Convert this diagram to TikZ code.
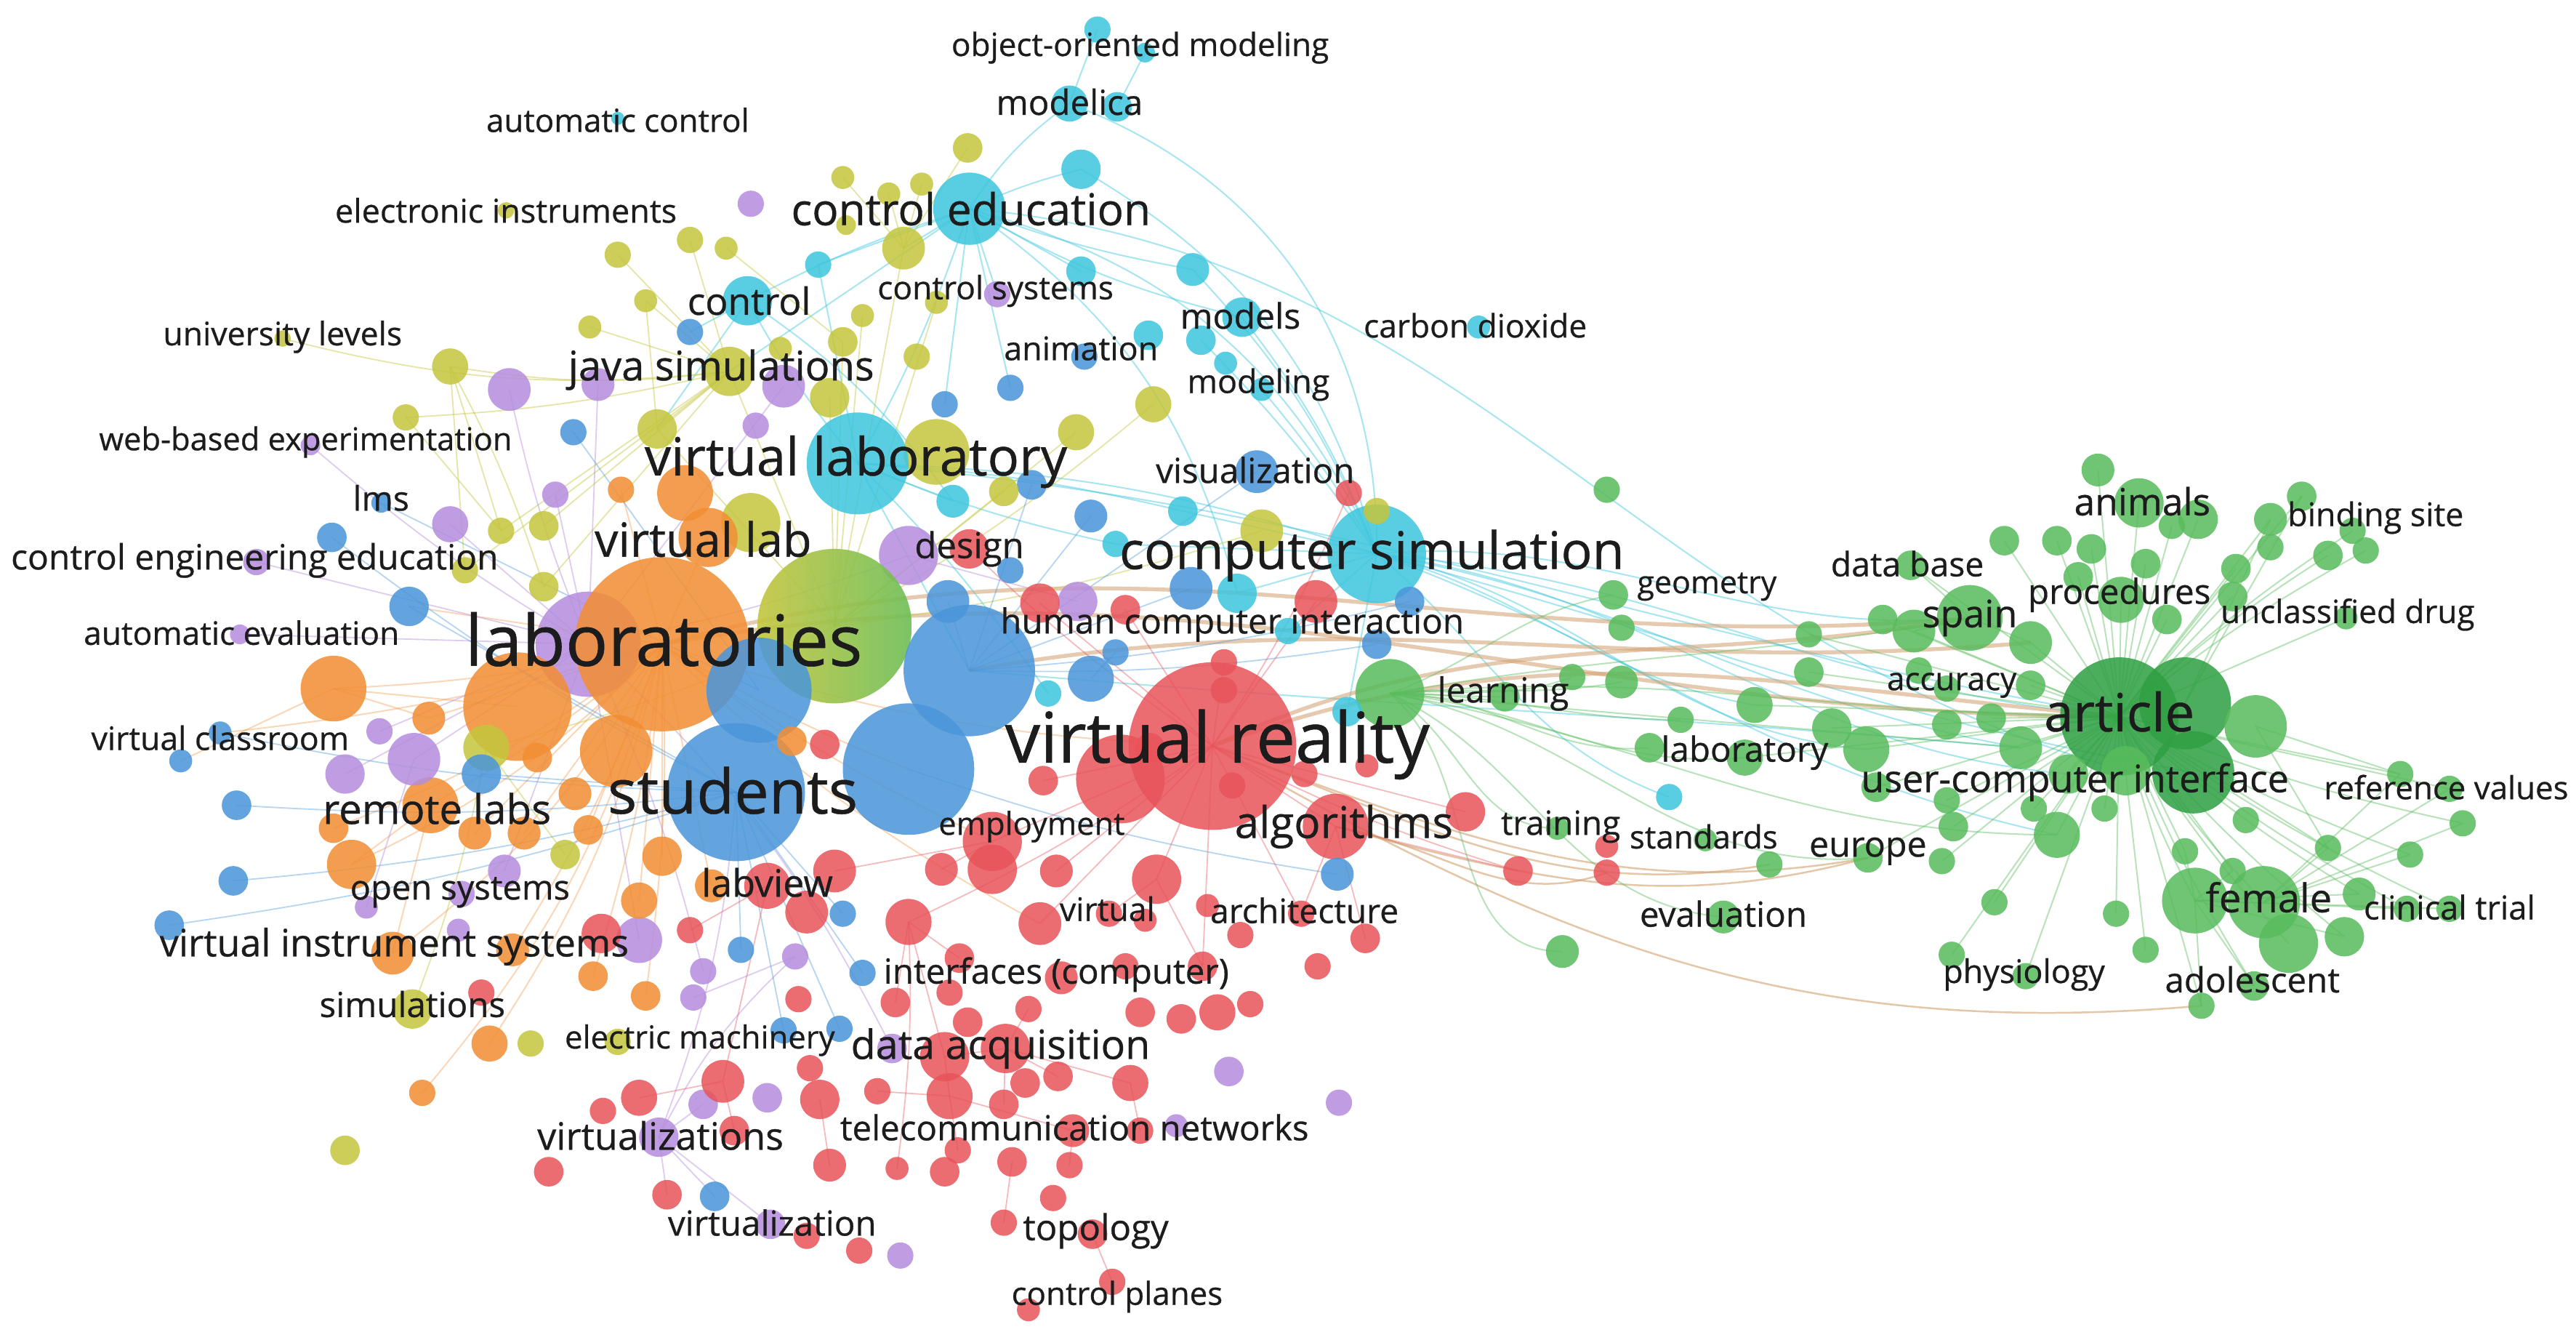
\documentclass[tikz,border=0pt]{standalone}
\usepackage{fontspec}
\setmainfont{Open Sans}
\newfontfamily\labfont{Open Sans}[FakeBold=0.6]
\pgfdeclarelayer{bg}
\pgfsetlayers{bg,main}
\definecolor{cR}{RGB}{232,84,90}
\definecolor{cG}{RGB}{88,188,92}
\definecolor{cGd}{RGB}{48,160,68}
\definecolor{cB}{RGB}{74,150,218}
\definecolor{cY}{RGB}{196,198,62}
\definecolor{cP}{RGB}{182,142,222}
\definecolor{cC}{RGB}{62,198,222}
\definecolor{cO}{RGB}{242,142,52}
\definecolor{cT}{RGB}{210,160,110}
\definecolor{cTx}{RGB}{28,28,28}
\tikzset{
  nd/.style={circle,inner sep=0pt,draw=none,fill opacity=0.86},
  nR/.style={nd,fill=cR,minimum size=2*#1pt},
  nG/.style={nd,fill=cG,minimum size=2*#1pt},
  nGd/.style={nd,fill=cGd,minimum size=2*#1pt},
  nB/.style={nd,fill=cB,minimum size=2*#1pt},
  nY/.style={nd,fill=cY,minimum size=2*#1pt},
  nP/.style={nd,fill=cP,minimum size=2*#1pt},
  nC/.style={nd,fill=cC,minimum size=2*#1pt},
  nO/.style={nd,fill=cO,minimum size=2*#1pt},
  nL/.style={circle,inner sep=0pt,draw=none,fill opacity=0.9,left color=cY,right color=cG!80!cY,minimum size=2*#1pt},
  lb/.style={inner sep=0pt,text=cTx,font=\labfont\fontsize{#1}{#1}\selectfont},
  eC/.style={draw=cC,opacity=0.45,line width=0.9pt},
  eO/.style={draw=cO,opacity=0.35,line width=0.9pt},
  eY/.style={draw=cY,opacity=0.45,line width=0.8pt},
  eP/.style={draw=cP,opacity=0.45,line width=0.8pt},
  eB/.style={draw=cB,opacity=0.4,line width=0.8pt},
  eR/.style={draw=cR,opacity=0.4,line width=0.8pt},
  eG/.style={draw=cG,opacity=0.42,line width=0.9pt},
  eT/.style={draw=cT,opacity=0.55,line width=2.4pt},
  eTt/.style={draw=cT,opacity=0.6,line width=1.1pt},
}
\begin{document}
\begin{tikzpicture}[x=1pt,y=-1pt]
\useasboundingbox (0,0) rectangle (1568,815);
% ---------------- big nodes ----------------
\node[nP=32] (p1) at (358,392) {};
\node[nO=33] (o1) at (315,430) {};
\node[nO=22] (o26) at (375,457) {};
\node[nY=18] (y50) at (457,318) {};
\node[nO=18] (o3) at (431,327) {};
\node[nO=17] (o4) at (417,300) {};
\node[nY=20] (y51) at (570,275) {};
\node[nC=31] (c0) at (522,282) {};
\node[nP=18] (p13) at (553,338) {};
\node[nL=47] (l1) at (508,381) {};
\node[nO=53] (o0) at (403,392) {};
\node[nB=32] (b1) at (462,420) {};
\node[nB=40] (b2) at (590,408) {};
\node[nB=40] (b3) at (553,468) {};
\node[nB=42] (b0) at (448,482) {};
\node[nR=27] (r1) at (682,474) {};
\node[nR=51] (r0) at (738,454) {};
\node[nC=30] (c1) at (838,337) {};
\node[nG=21] (g0) at (846,422) {};
\node[nR=20] (r2) at (813,503) {};
\node[nC=22] (c8) at (590,127) {};
\node[nGd=36] (a0) at (1290,436) {};
\node[nGd=28] (a1) at (1330,428) {};
\node[nGd=25] (a2) at (1335,470) {};
\node[nG=19] (g1) at (1373,442) {};
\node[nG=20] (g2) at (1336,548) {};
\node[nG=22] (g3) at (1378,549) {};
\node[nG=18] (g4) at (1393,574) {};
\node[nG=20] (g5) at (1199,376) {};
\node[nO=20] (o5) at (203,419) {};
\node[nY=14] (y31) at (296,455) {};
\node[nO=17] (o9) at (262,490) {};
\node[nB=13] (b35) at (577,366) {};
% ---------------- cyan ----------------
\node[nC=8] (c2) at (668,18) {};
\node[nC=6] (c3) at (697,32) {};
\node[nC=11] (c4) at (651,63) {};
\node[nC=9] (c5) at (680,65) {};
\node[nC=12] (c6) at (658,103) {};
\node[nC=4] (c7) at (376,72) {};
\node[nC=8] (c9) at (498,161) {};
\node[nC=9] (c10) at (658,165) {};
\node[nC=10] (c11) at (726,164) {};
\node[nC=15] (c12) at (455,183) {};
\node[nC=12] (c13) at (756,193) {};
\node[nC=9] (c14) at (731,207) {};
\node[nC=9] (c15) at (699,204) {};
\node[nC=7] (c16) at (746,221) {};
\node[nC=7] (c17) at (768,237) {};
\node[nC=7] (c18) at (900,199) {};
\node[nC=10] (c19) at (580,305) {};
\node[nC=9] (c20) at (720,311) {};
\node[nC=8] (c21) at (679,331) {};
\node[nC=12] (c22) at (753,361) {};
\node[nC=9] (c23) at (820,433) {};
\node[nC=8] (c24) at (1016,485) {};
\node[nC=8] (c25) at (784,384) {};
\node[nC=8] (c26) at (638,422) {};
% ---------------- blue ----------------
\node[nB=8] (b5) at (420,202) {};
\node[nB=8] (b6) at (575,246) {};
\node[nB=8] (b7) at (615,236) {};
\node[nB=8] (b8) at (349,263) {};
\node[nB=6] (b9) at (232,306) {};
\node[nB=9] (b10) at (202,327) {};
\node[nB=12] (b11) at (249,369) {};
\node[nB=7] (b12) at (134,446) {};
\node[nB=7] (b13) at (110,463) {};
\node[nB=9] (b14) at (144,490) {};
\node[nB=9] (b15) at (142,536) {};
\node[nB=9] (b16) at (103,563) {};
\node[nB=13] (b17) at (765,287) {};
\node[nB=13] (b18) at (725,358) {};
\node[nB=14] (b19) at (664,413) {};
\node[nB=9] (b20) at (628,295) {};
\node[nB=10] (b21) at (664,314) {};
\node[nB=8] (b22) at (615,347) {};
\node[nB=8] (b23) at (679,397) {};
\node[nB=9] (b24) at (838,392) {};
\node[nB=9] (b25) at (858,366) {};
\node[nB=10] (b26) at (814,532) {};
\node[nB=12] (b27) at (293,471) {};
\node[nB=8] (b28) at (513,556) {};
\node[nB=8] (b29) at (451,578) {};
\node[nB=8] (b30) at (525,592) {};
\node[nB=8] (b31) at (477,627) {};
\node[nB=8] (b32) at (511,626) {};
\node[nB=9] (b33) at (435,728) {};
\node[nB=8] (b34) at (660,217) {};
% ---------------- yellow ----------------
\node[nY=9] (y1) at (589,90) {};
\node[nY=7] (y2) at (513,108) {};
\node[nY=7] (y3) at (541,118) {};
\node[nY=7] (y4) at (561,112) {};
\node[nY=6] (y5) at (515,137) {};
\node[nY=5] (y6) at (308,128) {};
\node[nY=8] (y7) at (376,155) {};
\node[nY=8] (y8) at (420,146) {};
\node[nY=7] (y9) at (442,151) {};
\node[nY=13] (y10) at (550,151) {};
\node[nY=7] (y11) at (393,183) {};
\node[nY=7] (y12) at (359,199) {};
\node[nY=7] (y13) at (525,192) {};
\node[nY=7] (y14) at (570,184) {};
\node[nY=8] (y15) at (558,217) {};
\node[nY=9] (y16) at (513,208) {};
\node[nY=5] (y17) at (172,206) {};
\node[nY=11] (y18) at (274,223) {};
\node[nY=8] (y19) at (247,254) {};
\node[nY=15] (y20) at (444,226) {};
\node[nY=12] (y21) at (400,261) {};
\node[nY=11] (y22) at (702,246) {};
\node[nY=11] (y23) at (655,263) {};
\node[nY=9] (y24) at (611,299) {};
\node[nY=13] (y25) at (768,323) {};
\node[nY=8] (y26) at (838,311) {};
\node[nY=8] (y27) at (305,323) {};
\node[nY=9] (y28) at (331,320) {};
\node[nY=8] (y29) at (283,347) {};
\node[nY=9] (y30) at (331,357) {};
\node[nY=9] (y32) at (344,520) {};
\node[nY=12] (y33) at (251,614) {};
\node[nY=8] (y34) at (323,635) {};
\node[nY=8] (y35) at (376,634) {};
\node[nY=9] (y36) at (210,700) {};
\node[nY=12] (y37) at (505,242) {};
\node[nY=7] (y38) at (475,212) {};
% ---------------- purple ----------------
\node[nP=8] (p2) at (457,124) {};
\node[nP=8] (p3) at (607,179) {};
\node[nP=13] (p4) at (310,237) {};
\node[nP=10] (p5) at (364,234) {};
\node[nP=13] (p6) at (477,235) {};
\node[nP=8] (p7) at (460,259) {};
\node[nP=6] (p8) at (189,271) {};
\node[nP=8] (p9) at (338,301) {};
\node[nP=11] (p10) at (274,319) {};
\node[nP=8] (p11) at (156,342) {};
\node[nP=6] (p12) at (146,386) {};
\node[nP=12] (p14) at (656,366) {};
\node[nP=8] (p15) at (231,445) {};
\node[nP=16] (p16) at (252,462) {};
\node[nP=12] (p17) at (210,471) {};
\node[nP=10] (p18) at (307,530) {};
\node[nP=8] (p19) at (281,544) {};
\node[nP=7] (p20) at (223,552) {};
\node[nP=14] (p21) at (389,572) {};
\node[nP=7] (p22) at (279,566) {};
\node[nP=8] (p23) at (428,591) {};
\node[nP=8] (p24) at (422,607) {};
\node[nP=8] (p25) at (484,582) {};
\node[nP=9] (p26) at (543,638) {};
\node[nP=9] (p27) at (748,652) {};
\node[nP=8] (p28) at (815,671) {};
\node[nP=7] (p29) at (716,685) {};
\node[nP=9] (p30) at (428,672) {};
\node[nP=9] (p31) at (467,668) {};
\node[nP=12] (p32) at (401,692) {};
\node[nP=9] (p33) at (469,745) {};
\node[nP=8] (p34) at (548,764) {};
% ---------------- orange ----------------
\node[nO=10] (o6) at (261,437) {};
\node[nO=9] (o7) at (327,461) {};
\node[nO=10] (o8) at (350,483) {};
\node[nO=9] (o10) at (203,504) {};
\node[nO=10] (o11) at (289,507) {};
\node[nO=10] (o12) at (319,507) {};
\node[nO=9] (o13) at (358,505) {};
\node[nO=15] (o14) at (214,526) {};
\node[nO=12] (o15) at (403,521) {};
\node[nO=11] (o16) at (389,548) {};
\node[nO=10] (o17) at (433,539) {};
\node[nO=13] (o18) at (239,580) {};
\node[nO=10] (o19) at (312,578) {};
\node[nO=9] (o20) at (361,594) {};
\node[nO=9] (o21) at (393,606) {};
\node[nO=11] (o22) at (298,635) {};
\node[nO=8] (o23) at (257,665) {};
\node[nO=8] (o24) at (378,298) {};
\node[nO=9] (o25) at (482,451) {};
% ---------------- red ----------------
\node[nR=8] (r3) at (821,300) {};
\node[nR=12] (r4) at (590,334) {};
\node[nR=12] (r5) at (633,367) {};
\node[nR=9] (r6) at (685,371) {};
\node[nR=13] (r7) at (801,366) {};
\node[nR=8] (r8) at (745,403) {};
\node[nR=9] (r9) at (635,475) {};
\node[nR=8] (r10) at (750,478) {};
\node[nR=8] (r11) at (794,471) {};
\node[nR=7] (r12) at (832,466) {};
\node[nR=12] (r13) at (892,494) {};
\node[nR=18] (r14) at (604,512) {};
\node[nR=15] (r15) at (604,529) {};
\node[nR=10] (r16) at (573,529) {};
\node[nR=10] (r17) at (643,530) {};
\node[nR=15] (r18) at (704,535) {};
\node[nR=9] (r19) at (924,530) {};
\node[nR=8] (r20) at (978,531) {};
\node[nR=7] (r21) at (978,515) {};
\node[nR=14] (r22) at (553,561) {};
\node[nR=13] (r23) at (633,562) {};
\node[nR=8] (r24) at (675,556) {};
\node[nR=7] (r25) at (697,560) {};
\node[nR=7] (r26) at (735,551) {};
\node[nR=8] (r27) at (755,569) {};
\node[nR=8] (r28) at (792,556) {};
\node[nR=9] (r29) at (831,571) {};
\node[nR=8] (r30) at (802,588) {};
\node[nR=9] (r31) at (584,583) {};
\node[nR=9] (r32) at (545,610) {};
\node[nR=8] (r33) at (578,604) {};
\node[nR=8] (r34) at (626,614) {};
\node[nR=10] (r35) at (646,595) {};
\node[nR=8] (r36) at (685,588) {};
\node[nR=9] (r37) at (732,588) {};
\node[nR=9] (r38) at (694,616) {};
\node[nR=9] (r39) at (719,620) {};
\node[nR=11] (r40) at (741,616) {};
\node[nR=8] (r41) at (761,611) {};
\node[nR=9] (r42) at (589,622) {};
\node[nR=15] (r43) at (575,643) {};
\node[nR=15] (r44) at (612,638) {};
\node[nR=14] (r45) at (578,667) {};
\node[nR=9] (r46) at (644,655) {};
\node[nR=11] (r47) at (688,659) {};
\node[nR=9] (r48) at (624,659) {};
\node[nR=9] (r49) at (611,672) {};
\node[nR=8] (r50) at (534,664) {};
\node[nR=10] (r51) at (653,688) {};
\node[nR=8] (r52) at (583,700) {};
\node[nR=7] (r53) at (546,711) {};
\node[nR=9] (r54) at (575,713) {};
\node[nR=9] (r55) at (616,707) {};
\node[nR=8] (r56) at (651,709) {};
\node[nR=8] (r57) at (694,688) {};
\node[nR=8] (r58) at (641,729) {};
\node[nR=8] (r59) at (611,744) {};
\node[nR=9] (r60) at (665,751) {};
\node[nR=8] (r61) at (677,780) {};
\node[nR=7] (r62) at (626,797) {};
\node[nR=14] (r63) at (467,539) {};
\node[nR=13] (r64) at (491,555) {};
\node[nR=13] (r65) at (508,530) {};
\node[nR=9] (r66) at (502,453) {};
\node[nR=8] (r67) at (420,566) {};
\node[nR=12] (r68) at (366,568) {};
\node[nR=8] (r69) at (293,604) {};
\node[nR=8] (r71) at (486,608) {};
\node[nR=13] (r72) at (440,658) {};
\node[nR=11] (r73) at (389,668) {};
\node[nR=8] (r74) at (367,676) {};
\node[nR=12] (r75) at (499,669) {};
\node[nR=8] (r76) at (493,650) {};
\node[nR=9] (r77) at (447,688) {};
\node[nR=10] (r78) at (505,709) {};
\node[nR=9] (r79) at (334,713) {};
\node[nR=9] (r80) at (406,727) {};
\node[nR=8] (r81) at (491,752) {};
\node[nR=8] (r82) at (523,761) {};
\node[nR=9] (r84) at (700,455) {};
\node[nR=8] (r85) at (745,420) {};
% ---------------- green ----------------
\node[nG=8] (g6) at (978,298) {};
\node[nG=9] (g7) at (982,362) {};
\node[nG=8] (g8) at (987,382) {};
\node[nG=8] (g9) at (957,412) {};
\node[nG=10] (g10) at (987,415) {};
\node[nG=9] (g11) at (916,424) {};
\node[nG=11] (g12) at (1068,429) {};
\node[nG=8] (g13) at (1023,438) {};
\node[nG=9] (g14) at (1004,455) {};
\node[nG=11] (g15) at (1062,461) {};
\node[nG=7] (g16) at (948,504) {};
\node[nG=7] (g17) at (1038,511) {};
\node[nG=8] (g18) at (1077,526) {};
\node[nG=10] (g19) at (1049,558) {};
\node[nG=10] (g20) at (951,579) {};
\node[nG=8] (g21) at (1101,386) {};
\node[nG=9] (g22) at (1101,409) {};
\node[nG=12] (g23) at (1115,443) {};
\node[nG=14] (g24) at (1136,456) {};
\node[nG=9] (g25) at (1142,479) {};
\node[nG=9] (g26) at (1163,344) {};
\node[nG=13] (g27) at (1165,384) {};
\node[nG=9] (g28) at (1146,377) {};
\node[nG=13] (g29) at (1236,391) {};
\node[nG=9] (g30) at (1220,329) {};
\node[nG=9] (g31) at (1252,329) {};
\node[nG=9] (g32) at (1273,334) {};
\node[nG=9] (g33) at (1265,351) {};
\node[nG=8] (g34) at (1168,408) {};
\node[nG=8] (g35) at (1185,419) {};
\node[nG=9] (g36) at (1236,417) {};
\node[nG=9] (g37) at (1212,437) {};
\node[nG=9] (g38) at (1185,441) {};
\node[nG=13] (g39) at (1230,455) {};
\node[nG=12] (g40) at (1259,471) {};
\node[nG=15] (g41) at (1294,469) {};
\node[nG=8] (g42) at (1185,487) {};
\node[nG=9] (g43) at (1189,503) {};
\node[nG=8] (g44) at (1238,492) {};
\node[nG=14] (g45) at (1252,508) {};
\node[nG=8] (g46) at (1281,492) {};
\node[nG=9] (g47) at (1137,522) {};
\node[nG=8] (g48) at (1182,524) {};
\node[nG=8] (g50) at (1214,549) {};
\node[nG=8] (g51) at (1188,581) {};
\node[nG=8] (g52) at (1233,594) {};
\node[nG=10] (g53) at (1277,286) {};
\node[nG=15] (g54) at (1302,306) {};
\node[nG=8] (g55) at (1322,320) {};
\node[nG=12] (g56) at (1338,316) {};
\node[nG=10] (g57) at (1382,316) {};
\node[nG=9] (g58) at (1401,302) {};
\node[nG=8] (g59) at (1432,323) {};
\node[nG=9] (g60) at (1417,338) {};
\node[nG=8] (g61) at (1440,335) {};
\node[nG=8] (g62) at (1382,333) {};
\node[nG=9] (g63) at (1361,346) {};
\node[nG=9] (g64) at (1359,363) {};
\node[nG=7] (g65) at (1428,376) {};
\node[nG=9] (g66) at (1306,343) {};
\node[nG=14] (g67) at (1291,365) {};
\node[nG=9] (g68) at (1319,377) {};
\node[nG=8] (g69) at (1367,499) {};
\node[nG=8] (g70) at (1461,471) {};
\node[nG=8] (g71) at (1491,480) {};
\node[nG=8] (g72) at (1499,501) {};
\node[nG=8] (g73) at (1467,520) {};
\node[nG=8] (g74) at (1417,516) {};
\node[nG=8] (g75) at (1330,518) {};
\node[nG=8] (g76) at (1359,530) {};
\node[nG=12] (g77) at (1427,570) {};
\node[nG=10] (g78) at (1436,544) {};
\node[nG=8] (g79) at (1465,553) {};
\node[nG=8] (g80) at (1491,553) {};
\node[nG=8] (g81) at (1288,556) {};
\node[nG=8] (g82) at (1306,578) {};
\node[nG=9] (g83) at (1372,600) {};
\node[nG=8] (g84) at (1340,612) {};
% ---------------- edges ----------------
\begin{pgfonlayer}{bg}
\fill[white] (0,0) rectangle (1568,815);
\foreach \a/\b/\k in {c8/c0/5,c8/c12/-5,c8/c4/10,c8/c6/5,c8/c9/0,c8/c10/0,c8/c11/-5,c8/c13/-8,c8/p3/0,c8/y10/0,c8/b6/0,c8/c1/25,c4/c1/35,c6/c1/22,c2/c4/0,c3/c5/0,c0/c12/5,c0/c19/0,c0/c9/0,c0/c1/8,c0/c20/5,c1/c11/-10,c1/c13/-8,c1/c14/-5,c1/c17/-5,c1/c20/0,c1/c21/0,c1/c22/0,c1/c25/0,c1/c23/0,c12/b5/0,c0/b2/0,c8/b7/0,c0/c26/5,c8/c22/20,c0/c21/-5,c12/c19/10,c8/y20/0,c12/y21/0}
  \draw[eC] (\a.center) to[bend left=\k] (\b.center);
\foreach \a/\b/\o/\i in {c1/a0/-5/175,c1/g5/5/185,c1/g39/-10/170,c1/a2/-15/170,c1/g24/-12/175,c1/g12/-15/170,c1/g45/-20/168,c0/a0/-5/170,c1/g40/-8/175,b2/g39/-5/175,c8/g41/-5/165,c1/c24/-40/160}
  \draw[eC] (\a.center) to[out=\o,in=\i] (\b.center);
\foreach \a/\b/\o/\i in {o0/g5/15/185,o0/a0/10/180,r0/g5/25/190,r0/a0/20/175,b2/g29/10/185}
  \draw[eT] (\a.center) to[out=\o,in=\i] (\b.center);
\foreach \a/\b/\o/\i in {r0/g47/-20/190,r2/g47/-15/195,r0/g84/-30/185,r0/g18/-20/190,r2/r20/-10/200}
  \draw[eTt] (\a.center) to[out=\o,in=\i] (\b.center);
\foreach \a/\b/\k in {o0/o5/5,o0/o6/0,o0/o9/5,o0/o10/8,o0/o11/0,o0/o14/10,o0/o18/12,o0/o19/6,o0/o22/10,o0/o15/0,o0/o16/0,o0/o12/0,o0/o13/0,o0/o24/0,o0/b12/5,o0/b11/0,o0/o3/0,o0/r0/-8,o0/o17/0,o0/o20/5,o0/o21/5,o0/o23/12,o5/o1/0,o5/o6/0,o5/b13/0,o9/o14/0,o9/o18/0,o0/r14/-5,o0/r23/-8,o0/b3/-5,o0/o25/0}
  \draw[eO] (\a.center) to[bend left=\k] (\b.center);
\foreach \a/\b/\k in {y20/y18/8,y20/y19/5,y20/y17/10,y20/y11/0,y20/y7/0,y20/y8/0,y20/y21/0,y20/y12/0,y20/y27/0,y20/y28/0,y20/y29/0,y20/y30/0,y18/y27/0,y18/y29/0,l1/y10/0,l1/y16/0,l1/y23/0,l1/y22/-5,l1/y20/0,l1/y21/0,l1/y37/0,l1/y24/0,y10/y1/0,y10/y2/0,y10/y3/0,y10/y4/0,l1/y25/-5,y31/y33/5,y31/y32/0,l1/y31/5,y18/y30/5,y21/y11/0,y16/y9/0,y19/y27/0,l1/y14/0,l1/y13/0}
  \draw[eY] (\a.center) to[bend left=\k] (\b.center);
\foreach \a/\b/\k in {p1/p4/5,p1/p5/0,p1/p6/0,p1/p10/0,p1/p11/0,p1/p12/0,p1/p16/0,p1/p17/0,p1/p15/0,p1/p18/0,p1/p9/0,p1/p8/5,p1/p13/-5,p1/p21/0,p32/p33/0,p32/r80/0,p32/b33/0,p32/p30/0,p32/p25/10,b0/p32/8,p16/p20/0,p1/p23/5,p13/p14/0,p1/p26/10,p25/p24/0}
  \draw[eP] (\a.center) to[bend left=\k] (\b.center);
\foreach \a/\b/\k in {b0/b14/5,b0/b15/5,b0/b27/0,b0/b11/0,b0/b29/0,b0/b31/0,b2/b17/0,b2/b21/0,b2/b20/0,b2/b18/0,b19/b23/0,b3/b26/-5,b0/b16/5,b0/b10/5,b0/b12/5,b1/b8/0,b0/b28/0,b0/b30/0,b0/b32/0,b2/b24/-5,b2/b25/-5,b2/b35/0,b1/b9/0}
  \draw[eB] (\a.center) to[bend left=\k] (\b.center);
\foreach \a/\b/\k in {r0/r13/0,r0/r18/0,r0/r14/0,r0/r2/0,r0/r7/0,r0/r5/0,r0/r22/5,r0/r23/0,r0/r6/0,r0/r8/0,r0/r9/0,r0/r17/0,r0/r19/-5,r2/r19/0,r2/r29/0,r2/r28/0,r0/r37/0,r0/r28/0,r22/r43/0,r43/r45/0,r44/r47/0,r44/r46/0,r45/r51/0,r45/r52/0,r63/r72/0,r72/r77/0,r75/r78/0,r60/r61/0,r43/r44/0,r22/r31/0,r14/r16/0,r14/r65/0,r18/r37/0,r18/r24/0,r44/r49/0,r51/r56/0,r0/r3/-5,r0/r4/5,r45/r50/0,r72/r73/0,r63/r67/0,r22/r32/0,r44/r34/0,r47/r57/0,r22/r53/5,r55/r59/0}
  \draw[eR] (\a.center) to[bend left=\k] (\b.center);
\foreach \a/\b/\k in {a0/g53/0,a0/g54/0,a0/g56/0,a0/g57/0,a0/g58/0,a0/g63/0,a0/g64/0,a0/g67/0,a0/g66/0,a0/g55/0,a0/g60/5,a0/g29/0,a0/g36/0,a0/g37/0,a0/g39/0,a0/g40/0,a0/g45/0,a0/g44/0,a0/g46/0,a0/g23/0,a0/g24/0,a0/g25/0,a0/g42/0,a0/g43/0,a0/g47/0,a0/g48/0,a0/g2/-5,a0/g3/-5,a0/g4/-5,a0/g77/-5,a0/g78/-5,a0/g79/-5,a0/g80/-5,a0/g70/0,a0/g71/0,a0/g72/-5,a0/g73/-5,a0/g74/0,a0/g75/0,a0/g76/0,a0/g81/0,a0/g82/0,a0/g83/-5,a0/g84/0,a0/g50/0,a0/g51/0,a0/g52/0,a0/g26/0,a0/g27/0,a0/g28/0,a0/g22/0,a0/g21/0,a0/g12/0,a0/g15/0,a0/g30/0,a0/g31/0,a0/g32/0,a0/g33/0,a0/g68/0,a0/g65/0,a0/g61/5,a0/g59/5,g5/g26/0,g5/g27/0,g5/g29/0,g2/g77/0,g2/g78/0,g2/g79/0,g2/g80/0,g2/g83/0,g2/g84/0,g2/g75/0,g2/g76/0,g3/g70/0,g3/g71/0,g3/g72/0,g3/g73/0,g3/g74/0,g1/g70/0,g1/g74/0,a1/g57/0,a1/g58/0}
  \draw[eG] (\a.center) to[bend left=\k] (\b.center);
\foreach \a/\b/\o/\i in {g0/a0/5/180,g0/g45/-10/180,g0/g47/-10/185,g0/g5/10/190,g0/g39/-5/175,g0/g15/-5/185,g0/g14/0/185,g0/g11/0/180,g0/g9/5/200,g0/g10/5/190,g0/g20/-40/180,g0/g16/-30/180,g0/g19/-25/175,g0/g7/20/190,g0/g13/0/180}
  \draw[eG] (\a.center) to[out=\o,in=\i] (\b.center);
\end{pgfonlayer}
% ---------------- labels ----------------
\node[lb=19.5] (t1) at (694,29) {object-oriented modeling};
\node[lb=21] (t2) at (651,62) {modelica};
\node[lb=19.4] (t3) at (376,73) {automatic control};
\node[lb=19.9] (t4) at (308,128) {electronic instruments};
\node[lb=26.7] (t5) at (591,127) {control education};
\node[lb=19.6] (t6) at (606,177) {control systems};
\node[lb=22.8] (t7) at (456,183) {control};
\node[lb=21.3] (t8) at (755,192) {models};
\node[lb=19.6] (t9) at (898,198) {carbon dioxide};
\node[lb=19.7] (t10) at (172,205) {university levels};
\node[lb=24.8] (t11) at (439,225) {java simulations};
\node[lb=19.8] (t12) at (658,212) {animation};
\node[lb=19.8] (t13) at (766,234) {modeling};
\node[lb=19.2] (t14) at (186,269) {web-based experimentation};
\node[lb=32] (t15) at (521,281) {virtual laboratory};
\node[lb=21] (t16) at (764,286) {visualization};
\node[lb=20.6] (t17) at (232,303) {lms};
\node[lb=28.6] (t18) at (428,328) {virtual lab};
\node[lb=21.7] (t19) at (590,334) {design};
\node[lb=31.6] (t20) at (835,338) {computer simulation};
\node[lb=21.2] (t21) at (155,341) {control engineering education};
\node[lb=19.8] (t22) at (1446,315) {binding site};
\node[lb=22.8] (t23) at (1304,305) {animals};
\node[lb=20.5] (t24) at (1161,343) {data base};
\node[lb=19] (t25) at (1039,357) {geometry};
\node[lb=21] (t26) at (1290,362) {procedures};
\node[lb=19.5] (t27) at (1429,374) {unclassified drug};
\node[lb=23] (t28) at (1199,376) {spain};
\node[lb=21] (t29) at (750,380) {human computer interaction};
\node[lb=43] (t30) at (404,389) {laboratories};
\node[lb=19.6] (t31) at (147,385) {automatic evaluation};
\node[lb=19.5] (t32) at (1188,417) {accuracy};
\node[lb=21] (t33) at (915,422) {learning};
\node[lb=32] (t34) at (1290,433) {article};
\node[lb=19.7] (t35) at (134,449) {virtual classroom};
\node[lb=42.6] (t36) at (741,453) {virtual reality};
\node[lb=21] (t37) at (1062,458) {laboratory};
\node[lb=23] (t38) at (1263,476) {user-computer interface};
\node[lb=19.4] (t39) at (1489,479) {reference values};
\node[lb=37.5] (t40) at (446,481) {students};
\node[lb=25] (t41) at (266,492) {remote labs};
\node[lb=19.2] (t42) at (628,503) {employment};
\node[lb=26.6] (t43) at (818,503) {algorithms};
\node[lb=20.3] (t44) at (950,503) {training};
\node[lb=19.4] (t45) at (1037,509) {standards};
\node[lb=21.4] (t46) at (1137,518) {europe};
\node[lb=23] (t47) at (467,537) {labview};
\node[lb=20.8] (t48) at (280,543) {open systems};
\node[lb=19.7] (t49) at (674,553) {virtual};
\node[lb=20.5] (t50) at (794,554) {architecture};
\node[lb=21] (t51) at (1049,556) {evaluation};
\node[lb=24] (t52) at (1381,546) {female};
\node[lb=20] (t53) at (1491,552) {clinical trial};
\node[lb=23] (t54) at (240,576) {virtual instrument systems};
\node[lb=21] (t55) at (643,593) {interfaces (computer)};
\node[lb=19.8] (t56) at (1232,593) {physiology};
\node[lb=21] (t57) at (1371,596) {adolescent};
\node[lb=21] (t58) at (251,611) {simulations};
\node[lb=19.3] (t59) at (426,633) {electric machinery};
\node[lb=24.6] (t60) at (609,638) {data acquisition};
\node[lb=21] (t61) at (654,686) {telecommunication networks};
\node[lb=23] (t62) at (402,691) {virtualizations};
\node[lb=21] (t63) at (470,744) {virtualization};
\node[lb=21.7] (t64) at (667,749) {topology};
\node[lb=19.4] (t65) at (680,789) {control planes};
\end{tikzpicture}
\end{document}
